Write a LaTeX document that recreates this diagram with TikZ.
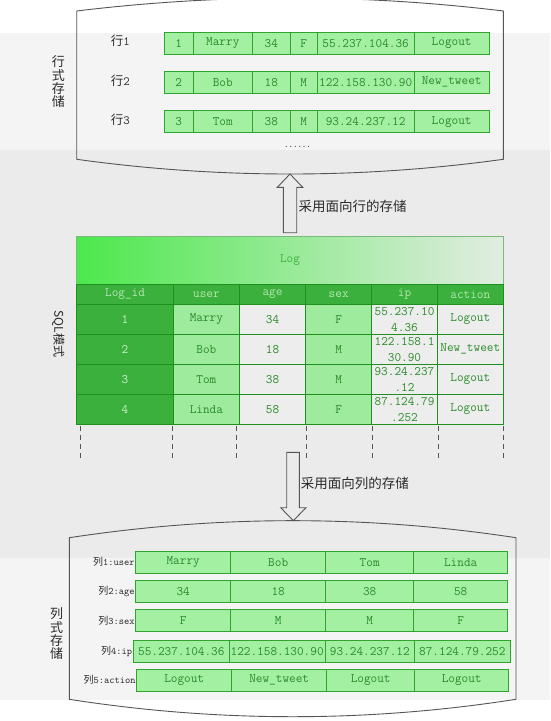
\documentclass[tikz,border=0pt]{standalone}
\usepackage{fontspec}
\newfontfamily\cjk{Noto Sans CJK SC}
\usetikzlibrary{positioning}

\definecolor{bglight}{HTML}{F4F4F4}
\definecolor{bgmid}{HTML}{EBEBEB}
\definecolor{cellfill}{HTML}{A3F0A3}
\definecolor{cellline}{HTML}{2FA42F}
\definecolor{celltext}{HTML}{2A8A2A}
\definecolor{darkgreen}{HTML}{3CB03C}
\definecolor{midgreen}{HTML}{9EEB9E}
\definecolor{palegray}{HTML}{ECEDEC}
\definecolor{tableline}{HTML}{1F8F1F}
\definecolor{headtext}{HTML}{B4E8B4}
\definecolor{idtext}{HTML}{CDEFCD}
\definecolor{titleleft}{HTML}{4CE84C}
\definecolor{titleright}{HTML}{E2ECE2}
\definecolor{titletext}{HTML}{3DB53D}
\definecolor{outline}{HTML}{555555}
\definecolor{labeltext}{HTML}{2B2B2B}

\begin{document}
\begin{tikzpicture}[
                    x=1pt, y=-1pt,
                    container/.style={
                        draw=outline,
                        line width=0.9pt
                    },
                    blockarrow/.style={
                        draw=outline,
                        line width=0.9pt
                    },
                    gridline/.style={
                        draw=outline,
                        line width=1pt,
                        dash pattern=on 5pt off 4pt
                    },
                    cell/.style={
                        rectangle,
                        draw=cellline,
                        fill=cellfill,
                        text=celltext,
                        line width=0.8pt,
                        inner sep=0pt,
                        outer sep=0pt,
                        minimum height=22pt,
                        font=\ttfamily\fontsize{12.9}{14}\selectfont
                    },
                    colcell/.style={cell, minimum height=21.6pt},
                    tcell/.style={
                        rectangle,
                        draw=tableline,
                        line width=0.8pt,
                        inner sep=0pt,
                        outer sep=0pt,
                        minimum height=30pt,
                        text=celltext,
                        align=center,
                        font=\ttfamily\fontsize{12.9}{16}\selectfont
                    },
                    headcell/.style={tcell, fill=darkgreen, text=headtext, minimum height=20pt},
                    idcell/.style={tcell, fill=darkgreen, text=idtext},
                    greencell/.style={tcell, fill=midgreen},
                    palecell/.style={tcell, fill=palegray},
                    titlebox/.style={
                        rectangle,
                        draw=tableline!60!white,
                        line width=0.8pt,
                        left color=titleleft,
                        right color=titleright,
                        minimum width=426.6pt,
                        minimum height=48.3pt,
                        inner sep=0pt,
                        outer sep=0pt,
                        text=titletext,
                        font=\ttfamily\fontsize{12.9}{14}\selectfont
                    },
                    rowlabel/.style={inner sep=0pt, text=labeltext, yshift=2pt, font=\ttfamily\fontsize{12.5}{14}\selectfont},
                    collabel/.style={inner sep=0pt, text=labeltext, font=\ttfamily\fontsize{10}{11}\selectfont},
                    sidelabel/.style={inner sep=0pt, text=labeltext, align=center, font=\cjk\fontsize{13}{13.3}\selectfont},
                    arrowlabel/.style={inner sep=0pt, text=labeltext, anchor=west, font=\cjk\fontsize{13.5}{15}\selectfont},
                    % column widths
                    rw1/.style={minimum width=29.3pt}, rw2/.style={minimum width=59pt},
                    rw3/.style={minimum width=38pt}, rw4/.style={minimum width=27pt},
                    rw5/.style={minimum width=96.7pt}, rw6/.style={minimum width=75.3pt},
                    tw1/.style={minimum width=96.7pt}, tw2/.style={minimum width=66pt},
                    tw3/.style={minimum width=66.3pt}, tw4/.style={minimum width=66pt},
                    tw5/.style={minimum width=65.6pt}, tw6/.style={minimum width=66pt},
                    cw1/.style={minimum width=95pt}, cw2/.style={minimum width=95pt},
                    cw3/.style={minimum width=88pt}, cw4/.style={minimum width=94pt}
                ]
                \useasboundingbox (0,0) rectangle (550,721);
                % background bands
                \fill[white] (0,0) rectangle (550,721);
                \fill[bglight] (0,33.3) rectangle (550,150);
                \fill[bgmid] (0,150) rectangle (550,558);
                \fill[bglight] (0,558) rectangle (550,700);

                % row storage
                \draw[container] (76.7,11) .. controls (218.9,-6.3) and (361.1,-6.3) .. (503.3,11)
                    -- (503.3,159.3) .. controls (361.1,178.9) and (218.9,178.9) .. (76.7,159.3) -- cycle;
                \node (rowstore) [sidelabel] at (58.3,81.7) {行\\式\\存\\储};

                \node (r1id) [cell, rw1, anchor=west] at (164,43.2) {1};
                \node (r1user) [cell, rw2, right=0pt of r1id] {Marry};
                \node (r1age) [cell, rw3, right=0pt of r1user] {34};
                \node (r1sex) [cell, rw4, right=0pt of r1age] {F};
                \node (r1ip) [cell, rw5, right=0pt of r1sex] {55.237.104.36};
                \node (r1act) [cell, rw6, right=0pt of r1ip] {Logout};
                \node (row1) [rowlabel, left=34pt of r1id] {{\cjk 行}1};

                \node (r2id) [cell, rw1, anchor=west] at (164,82.3) {2};
                \node (r2user) [cell, rw2, right=0pt of r2id] {Bob};
                \node (r2age) [cell, rw3, right=0pt of r2user] {18};
                \node (r2sex) [cell, rw4, right=0pt of r2age] {M};
                \node (r2ip) [cell, rw5, right=0pt of r2sex] {122.158.130.90};
                \node (r2act) [cell, rw6, right=0pt of r2ip] {New\_tweet};
                \node (row2) [rowlabel, left=34pt of r2id] {{\cjk 行}2};

                \node (r3id) [cell, rw1, anchor=west] at (164,121.7) {3};
                \node (r3user) [cell, rw2, right=0pt of r3id] {Tom};
                \node (r3age) [cell, rw3, right=0pt of r3user] {38};
                \node (r3sex) [cell, rw4, right=0pt of r3age] {M};
                \node (r3ip) [cell, rw5, right=0pt of r3sex] {93.24.237.12};
                \node (r3act) [cell, rw6, right=0pt of r3ip] {Logout};
                \node (row3) [rowlabel, left=34pt of r3id] {{\cjk 行}3};

                \node (dots) [inner sep=0pt, text=labeltext, font=\ttfamily\bfseries\fontsize{8.5}{9}\selectfont] at (297.5,147) {......};

                % row oriented arrow
                \coordinate (uptip) at (290,174);
                \draw[blockarrow] (uptip) -- ++(-12.7,13.3) -- ++(6,0) -- ++(0,45.4) -- ++(13.4,0) -- ++(0,-45.4) -- ++(6,0) -- cycle;
                \node (uplabel) [arrowlabel] at (298.3,206.7) {采用面向行的存储};

                % SQL table
                \node (sqlmode) [sidelabel, rotate=-90, font=\cjk\fontsize{12}{13}\selectfont] at (58.3,334) {SQL模式};
                \node (logtitle) [titlebox] at (290,260.15) {Log};

                \node (hid) [headcell, tw1, anchor=north west] at (logtitle.south west) {Log\_id};
                \node (huser) [headcell, tw2, right=0pt of hid] {user};
                \node (hage) [headcell, tw3, right=0pt of huser] {age};
                \node (hsex) [headcell, tw4, right=0pt of hage] {sex};
                \node (hip) [headcell, tw5, right=0pt of hsex] {ip};
                \node (hact) [headcell, tw6, right=0pt of hip] {action};

                \node (d1id) [idcell, tw1, below=0pt of hid] {1};
                \node (d1user) [greencell, tw2, right=0pt of d1id] {Marry};
                \node (d1age) [palecell, tw3, right=0pt of d1user] {34};
                \node (d1sex) [greencell, tw4, right=0pt of d1age] {F};
                \node (d1ip) [palecell, tw5, right=0pt of d1sex] {55.237.10\\4.36};
                \node (d1act) [palecell, tw6, right=0pt of d1ip] {Logout};

                \node (d2id) [idcell, tw1, below=0pt of d1id] {2};
                \node (d2user) [greencell, tw2, right=0pt of d2id] {Bob};
                \node (d2age) [palecell, tw3, right=0pt of d2user] {18};
                \node (d2sex) [greencell, tw4, right=0pt of d2age] {M};
                \node (d2ip) [palecell, tw5, right=0pt of d2sex] {122.158.1\\30.90};
                \node (d2act) [palecell, tw6, right=0pt of d2ip] {New\_tweet};

                \node (d3id) [idcell, tw1, below=0pt of d2id] {3};
                \node (d3user) [greencell, tw2, right=0pt of d3id] {Tom};
                \node (d3age) [palecell, tw3, right=0pt of d3user] {38};
                \node (d3sex) [greencell, tw4, right=0pt of d3age] {M};
                \node (d3ip) [palecell, tw5, right=0pt of d3sex] {93.24.237\\.12};
                \node (d3act) [palecell, tw6, right=0pt of d3ip] {Logout};

                \node (d4id) [idcell, tw1, below=0pt of d3id] {4};
                \node (d4user) [greencell, tw2, right=0pt of d4id] {Linda};
                \node (d4age) [palecell, tw3, right=0pt of d4user] {58};
                \node (d4sex) [greencell, tw4, right=0pt of d4age] {F};
                \node (d4ip) [palecell, tw5, right=0pt of d4sex] {87.124.79\\.252};
                \node (d4act) [palecell, tw6, right=0pt of d4ip] {Logout};

                \draw[gridline] (80.7,426) -- (80.7,460) (172.3,426) -- (172.3,460)
                    (236.7,426) -- (236.7,460) (306,426) -- (306,460)
                    (372.3,426) -- (372.3,460) (438.3,426) -- (438.3,460)
                    (503.3,426) -- (503.3,460);

                % column oriented arrow
                \coordinate (dntip) at (293.3,520.7);
                \draw[blockarrow] (dntip) -- ++(-12.6,-13) -- ++(6,0) -- ++(0,-55.4) -- ++(12.6,0) -- ++(0,55.4) -- ++(6.7,0) -- cycle;
                \node (dnlabel) [arrowlabel] at (300.7,483.3) {采用面向列的存储};

                % column storage
                \draw[container] (69.3,537.7) .. controls (218.2,515) and (367.1,515) .. (516,537.7)
                    -- (516,699.3) .. controls (367.1,722.5) and (218.2,722.5) .. (69.3,699.3) -- cycle;
                \node (colstore) [sidelabel] at (56.7,634) {列\\式\\存\\储};

                \node (c1a) [colcell, cw1, anchor=west] at (135.7,562.2) {Marry};
                \node (c1b) [colcell, cw2, right=0pt of c1a] {Bob};
                \node (c1c) [colcell, cw3, right=0pt of c1b] {Tom};
                \node (c1d) [colcell, cw4, right=0pt of c1c] {Linda};
                \node (col1) [collabel, left=1pt of c1a] {{\cjk 列}1:user};

                \node (c2a) [colcell, cw1, anchor=west] at (135.7,591.5) {34};
                \node (c2b) [colcell, cw2, right=0pt of c2a] {18};
                \node (c2c) [colcell, cw3, right=0pt of c2b] {38};
                \node (c2d) [colcell, cw4, right=0pt of c2c] {58};
                \node (col2) [collabel, left=1pt of c2a] {{\cjk 列}2:age};

                \node (c3a) [colcell, cw1, anchor=west] at (135.7,620.5) {F};
                \node (c3b) [colcell, cw2, right=0pt of c3a] {M};
                \node (c3c) [colcell, cw3, right=0pt of c3b] {M};
                \node (c3d) [colcell, cw4, right=0pt of c3c] {F};
                \node (col3) [collabel, left=1pt of c3a] {{\cjk 列}3:sex};

                \node (c4a) [colcell, minimum width=96pt, anchor=west] at (133.3,651.2) {55.237.104.36};
                \node (c4b) [colcell, minimum width=95.7pt, right=0pt of c4a] {122.158.130.90};
                \node (c4c) [colcell, minimum width=89.7pt, right=0pt of c4b] {93.24.237.12};
                \node (c4d) [colcell, minimum width=95.3pt, right=0pt of c4c] {87.124.79.252};
                \node (col4) [collabel, left=1pt of c4a] {{\cjk 列}4:ip};

                \node (c5a) [colcell, cw1, anchor=west] at (136.7,680.2) {Logout};
                \node (c5b) [colcell, cw2, right=0pt of c5a] {New\_tweet};
                \node (c5c) [colcell, cw3, right=0pt of c5b] {Logout};
                \node (c5d) [colcell, cw4, right=0pt of c5c] {Logout};
                \node (col5) [collabel, left=1pt of c5a] {{\cjk 列}5:action};
            \end{tikzpicture}
\end{document}
